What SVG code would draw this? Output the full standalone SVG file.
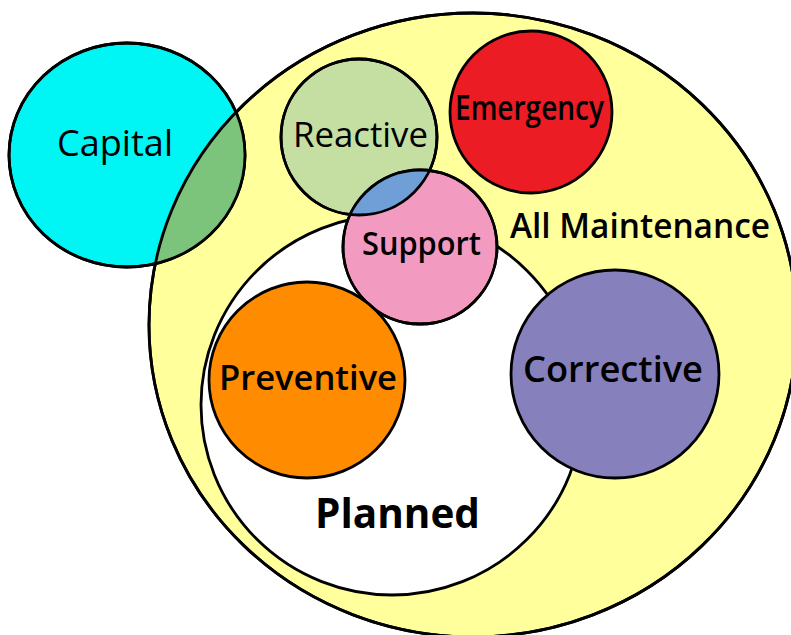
<svg xmlns="http://www.w3.org/2000/svg" width="791" height="635" viewBox="0 0 791 635">
<style>
.o{stroke:#000;stroke-width:2.8}
.n{fill:none;stroke:#000;stroke-width:2.8}
text{font-family:"Open Sans","Noto Sans","Liberation Sans",sans-serif;fill:#000;lengthAdjust:spacingAndGlyphs}
</style>
<defs>
<clipPath id="capClip"><ellipse cx="127" cy="155" rx="118" ry="112"/></clipPath>
<clipPath id="reaClip"><circle cx="359" cy="137" r="78"/></clipPath>
</defs>
<rect width="791" height="635" fill="#fff"/>
<g id="all-maintenance">
<ellipse class="o" cx="473" cy="325" rx="324" ry="312" fill="#ffff9c"/>
</g>
<g id="capital">
<ellipse class="o" cx="127" cy="155" rx="118" ry="112" fill="#00f5f5"/>
</g>
<g id="capital-overlap">
<ellipse cx="473" cy="325" rx="324" ry="312" fill="#7cc47c" clip-path="url(#capClip)"/>
<ellipse class="n" cx="473" cy="325" rx="324" ry="312"/>
<ellipse class="n" cx="127" cy="155" rx="118" ry="112"/>
</g>
<g id="planned">
<ellipse class="o" cx="392" cy="405" rx="191" ry="190" fill="#fff"/>
</g>
<g id="reactive">
<circle class="o" cx="359" cy="137" r="78" fill="#c5dea2"/>
</g>
<g id="emergency">
<circle class="o" cx="531" cy="112" r="81" fill="#ec1c24"/>
</g>
<g id="support">
<circle class="o" cx="420" cy="247" r="77" fill="#f29ac0"/>
</g>
<g id="support-reactive-overlap">
<circle cx="420" cy="247" r="77" fill="#6f9fd6" clip-path="url(#reaClip)"/>
<circle class="n" cx="420" cy="247" r="77"/>
<circle class="n" cx="359" cy="137" r="78"/>
</g>
<g id="preventive">
<circle class="o" cx="307" cy="380" r="98" fill="#ff8c00"/>
</g>
<g id="corrective">
<circle class="o" cx="615" cy="374" r="104" fill="#8680bd"/>
</g>
<g id="labels">
<text x="57" y="156" font-size="36" font-weight="400" textLength="116" lengthAdjust="spacingAndGlyphs">Capital</text>
<text x="293" y="147" font-size="35" font-weight="400" textLength="135" lengthAdjust="spacingAndGlyphs">Reactive</text>
<text x="455" y="120" font-size="35" font-weight="600" textLength="149" lengthAdjust="spacingAndGlyphs">Emergency</text>
<text x="362" y="255" font-size="32" font-weight="600" textLength="119" lengthAdjust="spacingAndGlyphs">Support</text>
<text x="510" y="238" font-size="35" font-weight="600" textLength="260" lengthAdjust="spacingAndGlyphs">All Maintenance</text>
<text x="219" y="390" font-size="35" font-weight="600" textLength="178" lengthAdjust="spacingAndGlyphs">Preventive</text>
<text x="523" y="382" font-size="36" font-weight="600" textLength="180" lengthAdjust="spacingAndGlyphs">Corrective</text>
<text x="315" y="528" font-size="42" font-weight="700" textLength="165" lengthAdjust="spacingAndGlyphs">Planned</text>
</g>
</svg>
